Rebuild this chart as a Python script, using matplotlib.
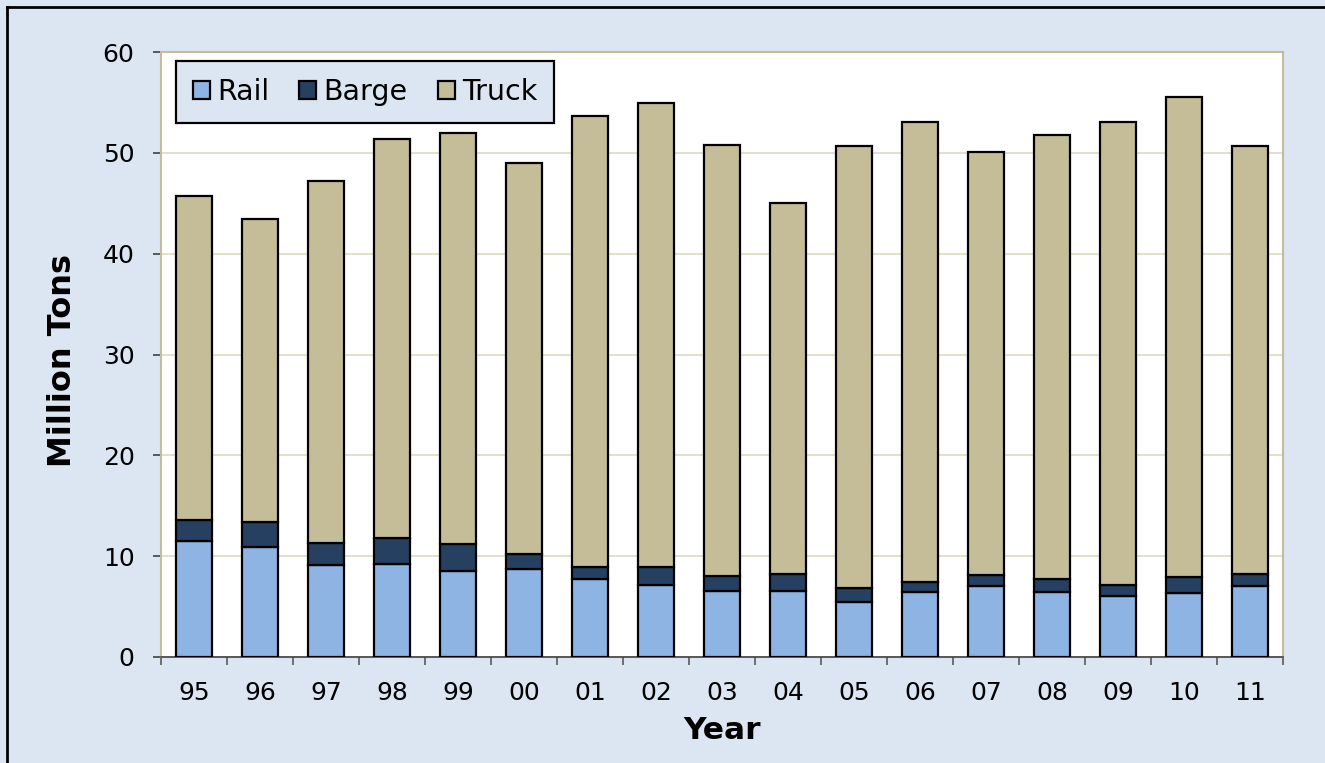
import numpy as np
import matplotlib.pyplot as plt
from matplotlib.lines import Line2D

years = ["95", "96", "97", "98", "99", "00", "01", "02", "03", "04",
         "05", "06", "07", "08", "09", "10", "11"]
rail = [11.5, 10.9, 9.1, 9.2, 8.5, 8.7, 7.7, 7.1, 6.5, 6.5,
        5.5, 6.4, 7.0, 6.4, 6.05, 6.3, 7.0]
barge = [2.1, 2.5, 2.2, 2.6, 2.7, 1.5, 1.2, 1.8, 1.5, 1.7,
         1.3, 1.0, 1.1, 1.3, 1.05, 1.6, 1.2]
truck = [32.1, 30.05, 35.9, 39.6, 40.8, 38.8, 44.8, 46.0, 42.8, 36.8,
         43.9, 45.7, 42.0, 44.1, 46.0, 47.6, 42.5]

bg = "#dce6f2"
tan = "#c4bd97"

fig = plt.figure(figsize=(13.25, 7.63), dpi=100, facecolor=bg)
ax = fig.add_axes([161 / 1325, 106 / 763, 1122 / 1325, 605 / 763])
ax.set_facecolor("white")

x = np.arange(len(years))
w = 0.56
rail_a = np.array(rail)
barge_a = np.array(barge)
truck_a = np.array(truck)
kw = dict(width=w, edgecolor="black", linewidth=1.6, zorder=3)
ax.bar(x, rail_a, color="#8eb4e3", label="Rail", **kw)
ax.bar(x, barge_a, bottom=rail_a, color="#254061", label="Barge", **kw)
ax.bar(x, truck_a, bottom=rail_a + barge_a, color=tan, label="Truck", **kw)

ax.set_xlim(-0.5, len(years) - 0.5)
ax.set_ylim(0, 60)
ax.set_yticks(range(0, 61, 10))
ax.yaxis.grid(True, color="#ddd9c3", linewidth=1.2, zorder=0)
ax.set_axisbelow(True)

ax.set_xticks(x)
ax.set_xticklabels(years)
ax.set_xticks(np.arange(-0.5, len(years), 1), minor=True)
ax.tick_params(axis="x", which="major", length=0, pad=17, labelsize=18)
ax.tick_params(axis="x", which="minor", length=6, width=1.2, color="#595959")
ax.tick_params(axis="y", length=6, width=1.2, color="#404040", labelsize=18, pad=13)

for s in ["top", "right", "left"]:
    ax.spines[s].set_color(tan)
    ax.spines[s].set_linewidth(1.5)
ax.spines["bottom"].set_color("#404040")
ax.spines["bottom"].set_linewidth(1.2)

ax.set_xlabel("Year", fontsize=22.5, fontweight="bold", labelpad=8)
ax.set_ylabel("Million Tons", fontsize=23, fontweight="bold")
ax.yaxis.set_label_coords(-0.074, 0.49)

leg = ax.legend(loc="upper left", ncol=3, fontsize=20.5, frameon=True,
                fancybox=False, edgecolor="black", facecolor=bg,
                handlelength=0.6, handleheight=0.6, handletextpad=0.25,
                columnspacing=1.05, borderpad=0.6, borderaxespad=0,
                bbox_to_anchor=(0.0134, 0.985))
leg.get_frame().set_linewidth(1.6)
leg.get_frame().set_alpha(1)

# outer frame: only left and top edges are visible in the picture
x0 = 7 / 1325
y1 = 756 / 763
fig.add_artist(Line2D([x0, x0], [0, y1], transform=fig.transFigure,
                      color="black", linewidth=2))
fig.add_artist(Line2D([x0, 1], [y1, y1], transform=fig.transFigure,
                      color="black", linewidth=2))

fig.savefig("out.png", dpi=100, facecolor=bg)
